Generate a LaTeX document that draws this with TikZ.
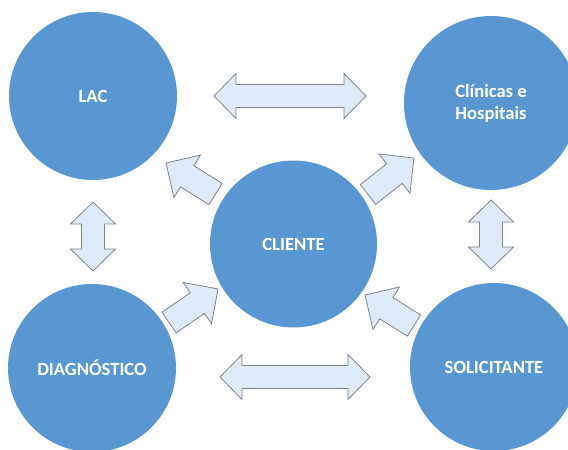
\documentclass[tikz,border=0pt]{standalone}
\usepackage{fontspec}
\setmainfont{Carlito}
\definecolor{hubblue}{RGB}{88,151,210}
\definecolor{arrowfill}{RGB}{222,234,246}
\definecolor{arrowline}{RGB}{125,133,142}
\tikzset{
  hub/.style={circle, fill=hubblue, text=white, inner sep=0pt, align=center,
    font=\bfseries\fontsize{18.6}{22}\selectfont},
  flow/.style={fill=arrowfill, draw=arrowline, line width=0.8pt, line join=miter},
  % block arrow from its tail (origin) along +x, length #1
  pics/sarrow/.style={code={
    \path[flow] (0,-12.5) -- ({#1-25},-12.5) -- ({#1-25},-25) -- (#1,0)
      -- ({#1-25},25) -- ({#1-25},12.5) -- (0,12.5) -- cycle;
  }},
  % double-headed block arrow centred on the origin, tip to tip length #1
  pics/dblarrow/.style={code={
    \path[flow] ({-#1/2},0) -- ({-#1/2+22},-22.5) -- ({-#1/2+22},-11.5)
      -- ({#1/2-22},-11.5) -- ({#1/2-22},-22.5) -- ({#1/2},0)
      -- ({#1/2-22},22.5) -- ({#1/2-22},11.5) -- ({-#1/2+22},11.5)
      -- ({-#1/2+22},22.5) -- cycle;
  }}
}
\begin{document}
\begin{tikzpicture}[x=1pt,y=-1pt]
\useasboundingbox (0,0) rectangle (568,450);
\clip (0,0) rectangle (568,450);
\fill[white] (0,0) rectangle (568,450);

% the five partners
\node[hub, minimum size=168pt] (lac) at (93,96) {LAC};
\node[hub, minimum size=174pt] (clin) at (491,103) {Clínicas e\\Hospitais};
\node[hub, minimum size=167pt] (cli) at (293.5,244) {CLIENTE};
\node[hub, minimum size=168pt] (diag) at (92,368) {DIAGNÓSTICO};
\node[hub, minimum size=168pt] (sol) at (494,367) {SOLICITANTE};

% two-way exchanges between neighbours
\pic (lacclin) at (290,96) {dblarrow=152};
\pic (diagsol) at (295,377) {dblarrow=150};
\pic[rotate=90] (lacdiag) at (93,236.5) {dblarrow=69};
\pic[rotate=90] (clinsol) at (491,234.5) {dblarrow=69};

% one-way flows around the client
\pic[rotate=147.9] (tolac) at (215.5,194) {sarrow=58.4};
\pic[rotate=38.4] (toclin) at (368,194.5) {sarrow=58.7};
\pic[rotate=34.4] (fromdiag) at (169,322.5) {sarrow=59.4};
\pic[rotate=148.1] (fromsol) at (414,325.5) {sarrow=57.7};
\end{tikzpicture}
\end{document}
